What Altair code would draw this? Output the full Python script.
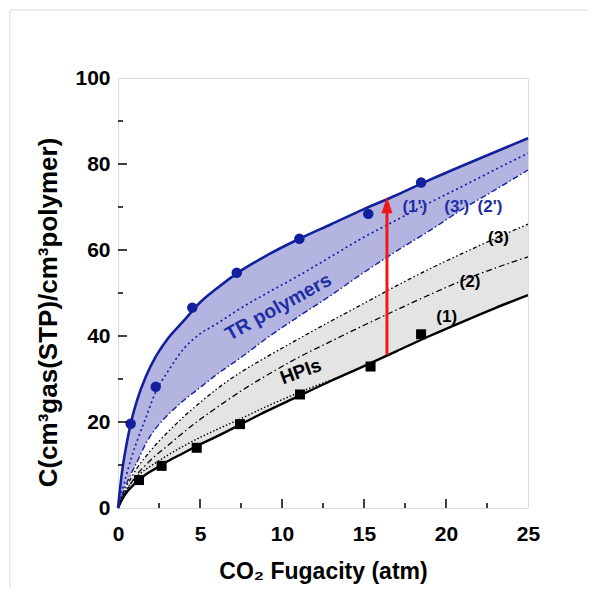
import altair as alt
import pandas as pd

# ---------------- data ----------------
FUG = [0, 0.25, 0.5, 0.8, 1.2, 1.7, 2.3, 3, 4, 5, 6, 7.5, 9, 11, 13, 15, 17, 19, 21, 23, 25]
TR_1P = [0, 8.5, 14.4, 20.0, 25.5, 30.6, 35.2, 39.2, 43.5, 47.8, 51.0, 55.2, 58.6, 62.5, 66.0, 69.5, 72.8, 76.3, 79.6, 82.8, 86.0]
TR_3P = [0, 4.0, 7.5, 11.5, 16.0, 21.0, 27.0, 31.5, 37.0, 40.5, 42.8, 46.5, 49.8, 54.0, 58.5, 63.0, 67.0, 71.0, 74.8, 78.7, 82.5]
TR_2P = [0, 3.0, 5.5, 8.0, 11.0, 15.0, 18.5, 21.5, 25.0, 28.0, 31.0, 35.0, 39.3, 44.5, 49.5, 54.8, 59.8, 64.5, 69.5, 74.0, 78.6]
HPI_3 = [0, 2.8, 5.0, 7.0, 9.5, 12.0, 14.7, 17.5, 21.2, 24.5, 27.6, 31.6, 35.0, 39.3, 43.5, 47.6, 51.7, 55.6, 59.2, 62.7, 66.0]
HPI_2 = [0, 2.3, 4.0, 5.8, 8.0, 10.0, 12.2, 14.4, 17.6, 20.6, 23.3, 27.2, 30.7, 35.0, 38.8, 42.5, 46.1, 49.6, 52.9, 55.8, 58.4]
HPI_1 = [0, 2.0, 3.5, 4.8, 6.3, 7.8, 9.2, 10.8, 12.8, 14.8, 16.6, 19.5, 22.4, 26.0, 29.6, 33.0, 36.5, 40.0, 43.3, 46.5, 49.5]
HPI_1_DOT_X = [0, 0.25, 0.5, 0.8, 1.2, 1.7, 2.3, 3, 4, 5, 6, 7.5, 9, 11, 13]
HPI_1_DOT = [0, 2.5, 4.2, 5.8, 7.5, 9.0, 10.5, 12.2, 14.4, 16.4, 18.2, 20.8, 23.5, 26.8, 29.8]

TR_PTS_X = [0.77, 2.3, 4.53, 7.24, 11.06, 15.26, 18.48]
TR_PTS_Y = [19.6, 28.2, 46.6, 54.7, 62.6, 68.4, 75.7]
HPI_PTS_X = [1.28, 2.66, 4.8, 7.44, 11.1, 15.4, 18.48]
HPI_PTS_Y = [6.5, 9.8, 14.0, 19.5, 26.4, 32.9, 40.4]

ARROW_X = 16.4
ARROW_FROM = 35.6
ARROW_TO = 72.4

X_TICKS = [0, 5, 10, 15, 20, 25]
Y_TICKS = [0, 20, 40, 60, 80, 100]
X_MAJOR_IN = [5, 10, 15, 20]
X_MINOR_IN = [2.5, 7.5, 12.5, 17.5, 22.5]
Y_MAJOR_IN = [20, 40, 60, 80]
Y_MINOR_IN = [10, 30, 50, 70, 90]

TR_LABELS = ["(1')", "(3')", "(2')"]
TR_LABEL_X = [18.1, 20.65, 22.68]
TR_LABEL_Y = [69.9, 69.9, 69.9]
HPI_LABELS = ["(3)", "(2)", "(1)"]
HPI_LABEL_X = [23.2, 21.46, 20.04]
HPI_LABEL_Y = [62.7, 52.6, 44.5]

# ---------------- styling ----------------
BLUE = "#13209e"
BLUE_TXT = "#1f2ea6"
BAND_BLUE = "#b4b4e1"
BAND_GRAY = "#e4e4e4"
RED = "#f01818"
FONT = "Liberation Sans"
W, H = 410, 430


def xenc():
    return alt.X(
        "f:Q",
        scale=alt.Scale(domain=[0, 25], nice=False, zero=False),
        axis=alt.Axis(
            values=X_TICKS, title="CO₂ Fugacity (atm)", grid=False, ticks=False,
            domain=False, labelPadding=15, labelFontSize=21, labelFontWeight="bold",
            labelFont=FONT, labelColor="black", titleFont=FONT, titleFontSize=23,
            titleFontWeight="bold", titleColor="black", titleY=70,
            titleBaseline="alphabetic", labelFlush=False, labelOverlap=False,
        ),
    )


def yenc(field="C"):
    return alt.Y(
        f"{field}:Q",
        scale=alt.Scale(domain=[0, 100], nice=False, zero=False),
        axis=alt.Axis(
            values=Y_TICKS, title="C(cm³gas(STP)/cm³polymer)", grid=False, ticks=False,
            domain=False, labelPadding=8, labelFontSize=21, labelFontWeight="bold",
            labelFont=FONT, labelColor="black", titleFont=FONT, titleFontSize=26,
            titleFontWeight="bold", titleColor="black", titleX=-62, titleY=234,
            titleBaseline="alphabetic", titleAngle=270, labelFlush=False, labelOverlap=False,
        ),
    )


band = pd.DataFrame({"f": FUG, "C": TR_2P, "C2": TR_1P})
gray = pd.DataFrame({"f": FUG, "C": HPI_1, "C2": HPI_3})

band_area = alt.Chart(band).mark_area(color=BAND_BLUE, opacity=1, interpolate="monotone").encode(
    x=xenc(), y=yenc(), y2="C2:Q")
gray_area = alt.Chart(gray).mark_area(color=BAND_GRAY, opacity=1, interpolate="monotone").encode(
    x=xenc(), y=yenc(), y2="C2:Q")


def line(xs, ys, color, width, dash=None):
    df = pd.DataFrame({"f": xs, "C": ys})
    kw = dict(color=color, strokeWidth=width, interpolate="monotone")
    if dash:
        kw["strokeDash"] = dash
    return alt.Chart(df).mark_line(**kw).encode(x=xenc(), y=yenc())


lines = [
    line(FUG, HPI_3, "black", 1.3, [4, 2.5, 1.5, 2.5, 1.5, 2.5]),
    line(FUG, HPI_2, "black", 1.3, [6, 3, 1.5, 3]),
    line(HPI_1_DOT_X, HPI_1_DOT, "black", 1.4, [1.5, 2]),
    line(FUG, HPI_1, "black", 2.4),
    line(FUG, TR_2P, BLUE, 1.4, [6, 2.5, 1.5, 2.5]),
    line(FUG, TR_3P, BLUE, 1.7, [2, 3]),
    line(FUG, TR_1P, BLUE, 2.6),
]

tr_pts = alt.Chart(pd.DataFrame({"f": TR_PTS_X, "C": TR_PTS_Y})).mark_point(
    shape="circle", filled=True, size=110, color=BLUE, opacity=1).encode(x=xenc(), y=yenc())
hpi_pts = alt.Chart(pd.DataFrame({"f": HPI_PTS_X, "C": HPI_PTS_Y})).mark_point(
    shape="square", filled=True, size=100, color="black", opacity=1).encode(x=xenc(), y=yenc())

arrow_df = pd.DataFrame({"f": [ARROW_X], "C": [ARROW_FROM], "C2": [ARROW_TO - 3.0]})
arrow_shaft = alt.Chart(arrow_df).mark_rule(color=RED, strokeWidth=3).encode(
    x=xenc(), y=yenc(), y2="C2:Q")
head_df = pd.DataFrame({"f": [ARROW_X], "C": [ARROW_TO]})
arrow_head = alt.Chart(head_df).mark_point(
    shape="M0,0L0.55,1.65L-0.55,1.65Z", filled=True, size=400, color=RED, opacity=1,
    strokeWidth=0).encode(x=xenc(), y=yenc())

tr_lab = alt.Chart(pd.DataFrame({"f": TR_LABEL_X, "C": TR_LABEL_Y, "t": TR_LABELS})).mark_text(
    font=FONT, fontSize=17, fontWeight="bold", color=BLUE_TXT).encode(x=xenc(), y=yenc(), text="t:N")
hpi_lab = alt.Chart(pd.DataFrame({"f": HPI_LABEL_X, "C": HPI_LABEL_Y, "t": HPI_LABELS})).mark_text(
    font=FONT, fontSize=17, fontWeight="bold", color="black").encode(x=xenc(), y=yenc(), text="t:N")

tr_txt = alt.Chart(pd.DataFrame({"f": [9.78], "C": [46.7], "t": ["TR polymers"]})).mark_text(
    font=FONT, fontSize=19.5, fontWeight="bold", color=BLUE_TXT, angle=331, baseline="middle",
    align="center").encode(x=xenc(), y=yenc(), text="t:N")
hpi_txt = alt.Chart(pd.DataFrame({"f": [11.14], "C": [31.7], "t": ["HPIs"]})).mark_text(
    font=FONT, fontSize=19, fontWeight="bold", color="black", angle=340, baseline="middle",
    align="center").encode(x=xenc(), y=yenc(), text="t:N")

# inward tick marks
xmaj = alt.Chart(pd.DataFrame({"f": X_MAJOR_IN})).mark_rule(color="black", strokeWidth=1.5).encode(
    x=xenc(), y=alt.value(H), y2=alt.value(H - 9))
xmin = alt.Chart(pd.DataFrame({"f": X_MINOR_IN})).mark_rule(color="black", strokeWidth=1.5).encode(
    x=xenc(), y=alt.value(H), y2=alt.value(H - 5))
ymaj = alt.Chart(pd.DataFrame({"C": Y_MAJOR_IN})).mark_rule(color="black", strokeWidth=1.5).encode(
    y=yenc(), x=alt.value(0), x2=alt.value(9))
ymin = alt.Chart(pd.DataFrame({"C": Y_MINOR_IN})).mark_rule(color="black", strokeWidth=1.5).encode(
    y=yenc(), x=alt.value(0), x2=alt.value(5))

# faint picture frame (decoration)
dummy = pd.DataFrame({"d": [0]})
frame_v = alt.Chart(dummy).mark_rule(color="#e6e6e6", strokeWidth=1.5).encode(
    x=alt.value(-108), y=alt.value(-68), y2=alt.value(530))
frame_h = alt.Chart(dummy).mark_rule(color="#e6e6e6", strokeWidth=1.5).encode(
    x=alt.value(-108), x2=alt.value(500), y=alt.value(-68))

chart = alt.layer(
    frame_v, frame_h,
    band_area, gray_area, *lines, tr_pts, hpi_pts, arrow_shaft, arrow_head,
    tr_lab, hpi_lab, tr_txt, hpi_txt, xmaj, xmin, ymaj, ymin,
).properties(
    width=W, height=H,
    padding={"left": 110, "top": 70, "right": 60, "bottom": 80},
    autosize=alt.AutoSizeParams(type="none"),
).configure_view(
    stroke="black", strokeWidth=1.6
).configure(background="white")

chart.save("out.html", embed_options={"renderer": "svg", "actions": False})
